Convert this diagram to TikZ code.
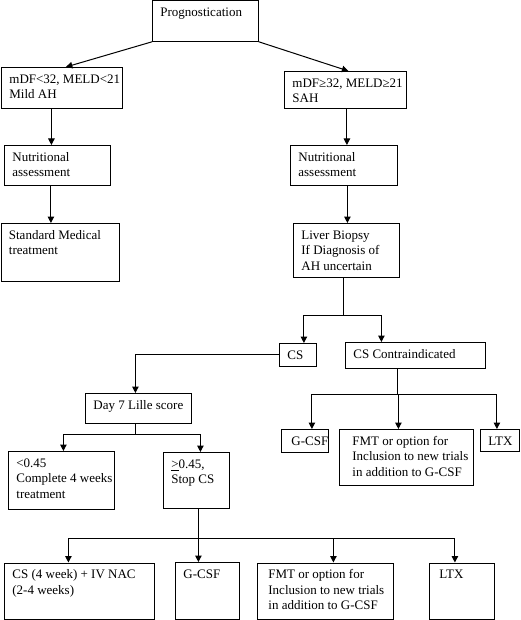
\documentclass[tikz,border=0pt]{standalone}
\usepackage{fontspec}
\setmainfont{Liberation Serif}
\usetikzlibrary{arrows.meta}
\hfuzz=60pt
\hbadness=10000
% text of a box: [indent]{width}{height}{lines}
\newcommand{\boxtext}[4][0pt]{\parbox[t][#3][t]{#2}{\rule{0pt}{13pt}\hspace*{#1}\begin{tabular}[t]{@{}l@{}}#4\end{tabular}}}
\begin{document}
\begin{tikzpicture}[x=1pt,y=-1pt,
	box/.style={draw,line width=0.8pt,inner xsep=8pt,inner ysep=3pt,anchor=north west,
		font=\fontsize{13}{15.5}\selectfont},
	>={Triangle[length=6.5pt,width=6.5pt]},
	link/.style={->,line width=1pt}]
	\useasboundingbox (0,0) rectangle (521,620);
	\node[box] (prog) at (152,0.5) {\boxtext{90pt}{34.5pt}{Prognostication}};
	\node[box] (mild) at (1,67) {\boxtext{105pt}{35pt}{mDF<32, MELD<21\\Mild AH}};
	\node[box] (sev) at (284,71) {\boxtext{106pt}{31pt}{mDF≥32, MELD≥21\\SAH}};
	\node[box] (nutL) at (4,145) {\boxtext{90pt}{34pt}{Nutritional\\assessment}};
	\node[box] (nutR) at (290,145) {\boxtext{91pt}{34pt}{Nutritional\\assessment}};
	\node[box] (smt) at (0.5,223) {\boxtext{102pt}{52pt}{Standard Medical\\treatment}};
	\node[box] (biopsy) at (293,223) {\boxtext{90pt}{48pt}{Liver Biopsy\\If Diagnosis of\\AH uncertain}};
	\node[box] (cs) at (279,343) {\boxtext{21pt}{17pt}{CS}};
	\node[box] (csci) at (345,342) {\boxtext{124pt}{20pt}{CS Contraindicated}};
	\node[box] (lille) at (85,393) {\boxtext{90pt}{24pt}{Day 7 Lille score}};
	\node[box] (gcsfR) at (281,429) {\boxtext[2pt]{31pt}{17pt}{G-CSF}};
	\node[box] (fmtR) at (339,429) {\boxtext[5pt]{118pt}{50pt}{FMT or option for\\Inclusion to new trials\\in addition to G-CSF}};
	\node[box] (ltxR) at (480,429) {\boxtext{23pt}{16pt}{LTX}};
	\node[box] (lo) at (8,451) {\boxtext{90pt}{52pt}{<0.45\\Complete 4 weeks\\treatment}};
	\node[box] (hi) at (163,452) {\boxtext{50pt}{50pt}{\underline{>}0.45,\\Stop CS}};
	\node[box] (csnac) at (4,562.5) {\boxtext{134pt}{50pt}{CS (4 week) + IV NAC\\(2-4 weeks)}};
	\node[box] (gcsfB) at (175,562) {\boxtext{48pt}{50.5pt}{G-CSF}};
	\node[box] (fmtB) at (257,562.5) {\boxtext[3pt]{120pt}{50pt}{FMT or option for\\Inclusion to new trials\\in addition to G-CSF}};
	\node[box] (ltxB) at (429,562.5) {\boxtext[2pt]{49pt}{50pt}{LTX}};
	% first levels
	\draw[link] (prog.south west) -- ([xshift=4]mild.north);
	\draw[link] (prog.south east) -- ([xshift=3]sev.north);
	\draw[link] ([xshift=-6]nutL.north |- mild.south) -- ([xshift=-6]nutL.north);
	\draw[link] ([xshift=-9]smt.north |- nutL.south) -- ([xshift=-9]smt.north);
	\draw[link] ([xshift=3]nutR.north |- sev.south) -- ([xshift=3]nutR.north);
	\draw[link] ([xshift=1]biopsy.north |- nutR.south) -- ([xshift=1]biopsy.north);
	% branches
	\path ([xshift=-3]biopsy.south) ++(0,38) coordinate (j1);
	\draw[line width=1pt] ([xshift=-3]biopsy.south) -- (j1);
	\draw[link] (j1) -| ([xshift=6]cs.north);
	\draw[link] (j1) -| ([xshift=-34]csci.north);
	\draw[link] (cs.west) -| ([xshift=-3]lille.north);
	\path ([xshift=-18]csci.south) ++(0,26) coordinate (j2);
	\draw[line width=1pt] ([xshift=-18]csci.south) -- (j2);
	\draw[link] (j2) -| ([xshift=7]gcsfR.north);
	\draw[link] (j2) -| ([xshift=-8]fmtR.north);
	\draw[link] (j2) -| ([xshift=-3]ltxR.north);
	\path ([xshift=-3]lille.south) ++(0,11) coordinate (j3);
	\draw[line width=1pt] ([xshift=-3]lille.south) -- (j3);
	\draw[link] (j3) -| ([xshift=2]lo.north);
	\draw[link] (j3) -| ([xshift=4]hi.north);
	\path ([xshift=2]hi.south) ++(0,30) coordinate (j4);
	\draw[link] ([xshift=2]hi.south) -- ([xshift=-9]gcsfB.north);
	\draw[link] (j4) -| ([xshift=-11]csnac.north);
	\draw[link] (j4) -| ([xshift=8]fmtB.north);
	\draw[link] (j4) -| ([xshift=-7]ltxB.north);
\end{tikzpicture}
\end{document}
